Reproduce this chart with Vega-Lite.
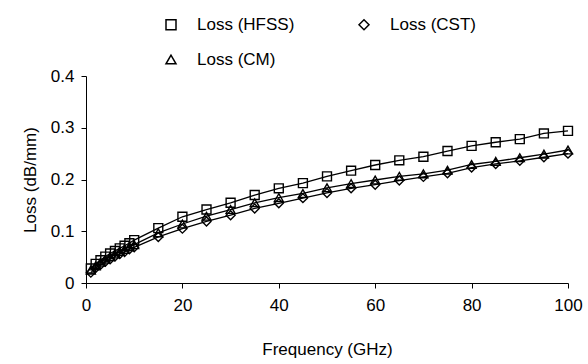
{
  "$schema": "https://vega.github.io/schema/vega-lite/v6.json",
  "autosize": {"type": "none"},
  "width": 482,
  "height": 207,
  "padding": {"left": 86, "top": 76, "right": 20, "bottom": 81},
  "background": "white",
  "config": {
    "view": {"stroke": null},
    "font": "Liberation Sans",
    "axis": {
      "grid": false,
      "domainColor": "black",
      "tickColor": "black",
      "labelColor": "black",
      "titleColor": "black",
      "labelFont": "Liberation Sans",
      "titleFont": "Liberation Sans",
      "labelFontSize": 17,
      "titleFontSize": 17,
      "titleFontWeight": "normal",
      "tickSize": 5,
      "domainWidth": 1,
      "tickWidth": 1
    },
    "legend": {
      "labelFont": "Liberation Sans",
      "labelFontSize": 17,
      "labelColor": "black"
    }
  },
  "data": {
    "values": [
      {"f": 1, "series": "Loss (HFSS)", "loss": 0.028},
      {"f": 2, "series": "Loss (HFSS)", "loss": 0.037},
      {"f": 3, "series": "Loss (HFSS)", "loss": 0.044},
      {"f": 4, "series": "Loss (HFSS)", "loss": 0.051},
      {"f": 5, "series": "Loss (HFSS)", "loss": 0.057},
      {"f": 6, "series": "Loss (HFSS)", "loss": 0.062},
      {"f": 7, "series": "Loss (HFSS)", "loss": 0.067},
      {"f": 8, "series": "Loss (HFSS)", "loss": 0.072},
      {"f": 9, "series": "Loss (HFSS)", "loss": 0.077},
      {"f": 10, "series": "Loss (HFSS)", "loss": 0.083},
      {"f": 15, "series": "Loss (HFSS)", "loss": 0.106},
      {"f": 20, "series": "Loss (HFSS)", "loss": 0.128},
      {"f": 25, "series": "Loss (HFSS)", "loss": 0.142},
      {"f": 30, "series": "Loss (HFSS)", "loss": 0.155},
      {"f": 35, "series": "Loss (HFSS)", "loss": 0.170},
      {"f": 40, "series": "Loss (HFSS)", "loss": 0.183},
      {"f": 45, "series": "Loss (HFSS)", "loss": 0.193},
      {"f": 50, "series": "Loss (HFSS)", "loss": 0.206},
      {"f": 55, "series": "Loss (HFSS)", "loss": 0.217},
      {"f": 60, "series": "Loss (HFSS)", "loss": 0.228},
      {"f": 65, "series": "Loss (HFSS)", "loss": 0.237},
      {"f": 70, "series": "Loss (HFSS)", "loss": 0.244},
      {"f": 75, "series": "Loss (HFSS)", "loss": 0.255},
      {"f": 80, "series": "Loss (HFSS)", "loss": 0.265},
      {"f": 85, "series": "Loss (HFSS)", "loss": 0.272},
      {"f": 90, "series": "Loss (HFSS)", "loss": 0.278},
      {"f": 95, "series": "Loss (HFSS)", "loss": 0.289},
      {"f": 100, "series": "Loss (HFSS)", "loss": 0.294},
      {"f": 1, "series": "Loss (CM)", "loss": 0.025},
      {"f": 2, "series": "Loss (CM)", "loss": 0.033},
      {"f": 3, "series": "Loss (CM)", "loss": 0.040},
      {"f": 4, "series": "Loss (CM)", "loss": 0.046},
      {"f": 5, "series": "Loss (CM)", "loss": 0.051},
      {"f": 6, "series": "Loss (CM)", "loss": 0.056},
      {"f": 7, "series": "Loss (CM)", "loss": 0.061},
      {"f": 8, "series": "Loss (CM)", "loss": 0.065},
      {"f": 9, "series": "Loss (CM)", "loss": 0.070},
      {"f": 10, "series": "Loss (CM)", "loss": 0.074},
      {"f": 15, "series": "Loss (CM)", "loss": 0.097},
      {"f": 20, "series": "Loss (CM)", "loss": 0.114},
      {"f": 25, "series": "Loss (CM)", "loss": 0.129},
      {"f": 30, "series": "Loss (CM)", "loss": 0.142},
      {"f": 35, "series": "Loss (CM)", "loss": 0.155},
      {"f": 40, "series": "Loss (CM)", "loss": 0.165},
      {"f": 45, "series": "Loss (CM)", "loss": 0.173},
      {"f": 50, "series": "Loss (CM)", "loss": 0.184},
      {"f": 55, "series": "Loss (CM)", "loss": 0.192},
      {"f": 60, "series": "Loss (CM)", "loss": 0.199},
      {"f": 65, "series": "Loss (CM)", "loss": 0.206},
      {"f": 70, "series": "Loss (CM)", "loss": 0.211},
      {"f": 75, "series": "Loss (CM)", "loss": 0.218},
      {"f": 80, "series": "Loss (CM)", "loss": 0.229},
      {"f": 85, "series": "Loss (CM)", "loss": 0.235},
      {"f": 90, "series": "Loss (CM)", "loss": 0.242},
      {"f": 95, "series": "Loss (CM)", "loss": 0.249},
      {"f": 100, "series": "Loss (CM)", "loss": 0.257},
      {"f": 1, "series": "Loss (CST)", "loss": 0.020},
      {"f": 2, "series": "Loss (CST)", "loss": 0.029},
      {"f": 3, "series": "Loss (CST)", "loss": 0.035},
      {"f": 4, "series": "Loss (CST)", "loss": 0.041},
      {"f": 5, "series": "Loss (CST)", "loss": 0.046},
      {"f": 6, "series": "Loss (CST)", "loss": 0.051},
      {"f": 7, "series": "Loss (CST)", "loss": 0.056},
      {"f": 8, "series": "Loss (CST)", "loss": 0.060},
      {"f": 9, "series": "Loss (CST)", "loss": 0.065},
      {"f": 10, "series": "Loss (CST)", "loss": 0.069},
      {"f": 15, "series": "Loss (CST)", "loss": 0.089},
      {"f": 20, "series": "Loss (CST)", "loss": 0.105},
      {"f": 25, "series": "Loss (CST)", "loss": 0.119},
      {"f": 30, "series": "Loss (CST)", "loss": 0.131},
      {"f": 35, "series": "Loss (CST)", "loss": 0.144},
      {"f": 40, "series": "Loss (CST)", "loss": 0.154},
      {"f": 45, "series": "Loss (CST)", "loss": 0.164},
      {"f": 50, "series": "Loss (CST)", "loss": 0.174},
      {"f": 55, "series": "Loss (CST)", "loss": 0.183},
      {"f": 60, "series": "Loss (CST)", "loss": 0.190},
      {"f": 65, "series": "Loss (CST)", "loss": 0.198},
      {"f": 70, "series": "Loss (CST)", "loss": 0.205},
      {"f": 75, "series": "Loss (CST)", "loss": 0.212},
      {"f": 80, "series": "Loss (CST)", "loss": 0.223},
      {"f": 85, "series": "Loss (CST)", "loss": 0.230},
      {"f": 90, "series": "Loss (CST)", "loss": 0.236},
      {"f": 95, "series": "Loss (CST)", "loss": 0.243},
      {"f": 100, "series": "Loss (CST)", "loss": 0.250}
    ]
  },
  "encoding": {
    "x": {
      "field": "f", "type": "quantitative",
      "scale": {"domain": [0, 100], "nice": false},
      "axis": {"values": [0, 20, 40, 60, 80, 100], "title": "Frequency (GHz)", "labelPadding": 9, "titlePadding": 28, "labelFlush": false}
    },
    "y": {
      "field": "loss", "type": "quantitative",
      "scale": {"domain": [0, 0.4], "nice": false, "zero": true},
      "axis": {"values": [0, 0.1, 0.2, 0.3, 0.4], "format": "~g", "title": "Loss (dB/mm)", "labelPadding": 7, "titlePadding": 11, "labelFlush": false}
    }
  },
  "layer": [
    {
      "mark": {"type": "line", "color": "black", "strokeWidth": 1.3},
      "encoding": {"detail": {"field": "series"}}
    },
    {
      "mark": {"type": "point", "filled": false, "color": "black", "opacity": 1, "strokeWidth": 1.4},
      "encoding": {
        "shape": {
          "field": "series", "type": "nominal",
          "scale": {"domain": ["Loss (HFSS)", "Loss (CST)", "Loss (CM)"], "range": ["square", "diamond", "triangle-up"]},
          "legend": {
            "title": null,
            "orient": "none",
            "legendX": 64,
            "legendY": -60,
            "direction": "horizontal",
            "columns": 2,
            "columnPadding": 48,
            "rowPadding": 17,
            "symbolOffset": 12.5,
            "labelOffset": 17.5
          }
        },
        "size": {"value": 80}
      }
    }
  ]
}
